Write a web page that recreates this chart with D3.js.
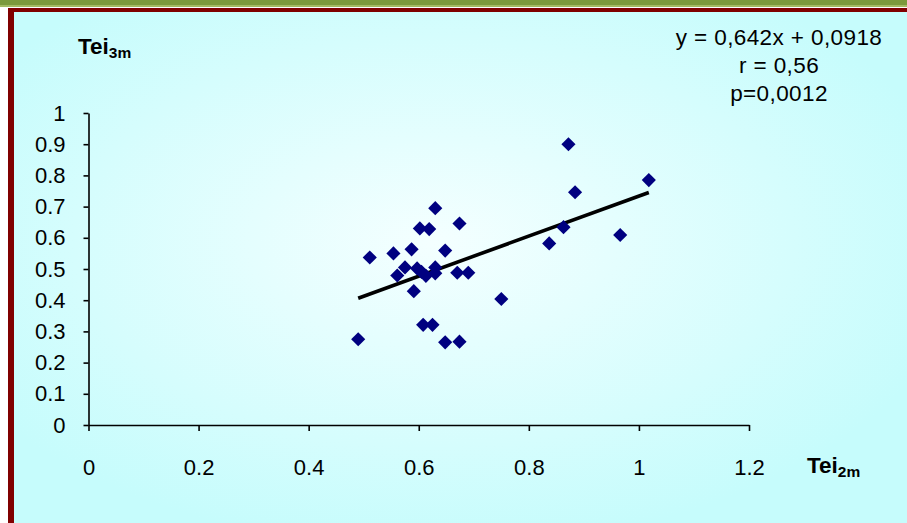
<!DOCTYPE html>
<html>
<head>
<meta charset="utf-8">
<script src="https://cdn.jsdelivr.net/npm/d3@7"></script>
<style>
  html, body { margin: 0; padding: 0; background: #fff; }
  svg { display: block; font-family: Arial, "Liberation Sans", sans-serif; }
</style>
</head>
<body>
<svg id="chart" width="907" height="523"></svg>
<script>
// Tei at 2 months (x) vs Tei at 3 months (y)
const tei2m = [0.490, 0.511, 0.554, 0.561, 0.575, 0.587, 0.591, 0.597, 0.602, 0.605,
  0.608, 0.613, 0.619, 0.625, 0.630, 0.630, 0.630, 0.648, 0.648, 0.670,
  0.674, 0.674, 0.690, 0.750, 0.837, 0.863, 0.872, 0.884, 0.966, 1.018];
const tei3m = [0.275, 0.537, 0.550, 0.479, 0.505, 0.563, 0.429, 0.502, 0.630, 0.491,
  0.321, 0.478, 0.628, 0.321, 0.695, 0.505, 0.486, 0.559, 0.265, 0.488,
  0.646, 0.267, 0.488, 0.404, 0.582, 0.634, 0.900, 0.746, 0.609, 0.785];
const xTicks = [0, 0.2, 0.4, 0.6, 0.8, 1, 1.2];
const yTicks = [0, 0.1, 0.2, 0.3, 0.4, 0.5, 0.6, 0.7, 0.8, 0.9, 1];
const slope = 0.642;
const intercept = 0.0918;
const statLines = ["y = 0,642x + 0,0918", "r = 0,56", "p=0,0012"];

const points = tei2m.map((x, i) => ({ x, y: tei3m[i] }));

const svg = d3.select("#chart");
const W = 907, H = 523;

const defs = svg.append("defs");
const grad = defs.append("radialGradient")
  .attr("id", "bg")
  .attr("cx", "0.47").attr("cy", "0.45").attr("r", "0.6");
grad.append("stop").attr("offset", "0%").attr("stop-color", "#f4ffff");
grad.append("stop").attr("offset", "100%").attr("stop-color", "#c6fcfc");

// frame: green band on top, dark red border left and top
svg.append("rect").attr("x", 0).attr("y", 0).attr("width", W).attr("height", 5).attr("fill", "#7b9a3c");
svg.append("rect").attr("x", 0).attr("y", 5).attr("width", W).attr("height", 2).attr("fill", "#a3bb63");
svg.append("rect").attr("x", 8).attr("y", 8).attr("width", W - 8).attr("height", H - 8).attr("fill", "#800000");
svg.append("rect").attr("x", 14).attr("y", 12).attr("width", W - 14).attr("height", H - 12).attr("fill", "url(#bg)");

const x = d3.scaleLinear().domain([0, 1.2]).range([88.5, 749]);
const y = d3.scaleLinear().domain([0, 1]).range([425, 113]);

const fmt = d => d3.format("")(d);

const gx = svg.append("g")
  .attr("transform", `translate(0,${y(0)})`)
  .call(d3.axisBottom(x).tickValues(xTicks).tickSizeOuter(0).tickSizeInner(6).tickFormat(fmt));
gx.selectAll("text").attr("y", 50).attr("dy", 0);

const gy = svg.append("g")
  .attr("transform", `translate(${x(0)},0)`)
  .call(d3.axisLeft(y).tickValues(yTicks).tickSizeOuter(0).tickSizeInner(5).tickFormat(fmt));
gy.selectAll("text").attr("x", -23);

svg.selectAll(".domain, .tick line").attr("stroke", "#000").attr("stroke-width", 1.6);
svg.selectAll(".tick text")
  .attr("font-size", 22)
  .attr("font-family", "Arial, 'Liberation Sans', sans-serif")
  .attr("fill", "#000");

// regression line across the data range
const [xmin, xmax] = d3.extent(tei2m);
svg.append("line")
  .attr("x1", x(xmin)).attr("y1", y(slope * xmin + intercept))
  .attr("x2", x(xmax)).attr("y2", y(slope * xmax + intercept))
  .attr("stroke", "#000").attr("stroke-width", 3.6);

// diamonds
const diamond = d3.symbol().type(d3.symbolSquare).size(100);
svg.append("g").selectAll("path")
  .data(points)
  .join("path")
  .attr("d", diamond)
  .attr("transform", d => `translate(${x(d.x)},${y(d.y)}) rotate(45)`)
  .attr("fill", "#000080");

// axis titles
function teiLabel(tx, ty, sub) {
  const t = svg.append("text")
    .attr("x", tx).attr("y", ty)
    .attr("font-weight", "bold").attr("font-size", 22.5).attr("fill", "#000");
  t.append("tspan").text("Tei");
  t.append("tspan").attr("font-size", 15.5).attr("dy", 4).text(sub);
}
teiLabel(78, 54, "3m");
teiLabel(807, 473, "2m");

// regression stats
svg.append("g").attr("text-anchor", "middle")
  .selectAll("text")
  .data(statLines)
  .join("text")
  .attr("x", 779)
  .attr("y", (d, i) => 45 + i * 28)
  .attr("font-size", 22.5)
  .attr("letter-spacing", 0.4)
  .attr("fill", "#000")
  .text(d => d);
</script>
</body>
</html>
